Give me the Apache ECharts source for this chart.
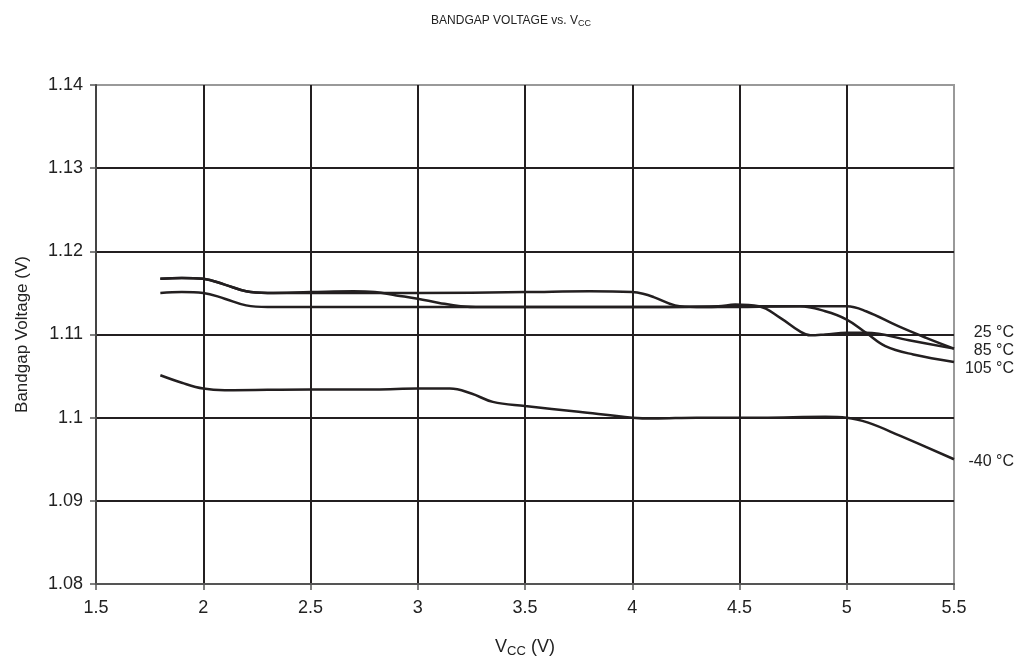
<!DOCTYPE html>
<html><head><meta charset="utf-8">
<script src="https://cdn.jsdelivr.net/npm/echarts@6/dist/echarts.min.js"></script>
<style>html,body{margin:0;padding:0;background:#fff}#c{width:1026px;height:663px}</style>
</head><body><div id="c"></div>
<script>
const xTicks = [1.5, 5.5, 0.5];
const yTicks = [1.08, 1.14, 0.01];
const seriesNames = ['25 °C', '85 °C', '105 °C', '-40 °C'];
const s25 = [[1.8,1.1167],[1.9,1.1168],[2.0,1.1167],[2.1,1.1160],[2.2,1.1152],[2.3,1.1150],[2.5,1.1150],[3.0,1.1150],[3.5,1.1151],[3.8,1.1152],[4.0,1.1151],[4.05,1.1149],[4.1,1.1145],[4.2,1.1135],[4.3,1.1133],[4.5,1.1134],[4.8,1.1134],[4.95,1.1134],[5.0,1.1134],[5.09,1.1128],[5.24,1.1110],[5.37,1.1096],[5.5,1.1083]];
const s85 = [[1.8,1.1150],[1.9,1.1151],[2.0,1.1150],[2.1,1.1143],[2.2,1.1135],[2.3,1.1133],[2.5,1.1133],[3.0,1.1133],[3.5,1.1133],[4.0,1.1133],[4.4,1.1134],[4.48,1.1136],[4.59,1.1134],[4.69,1.1120],[4.78,1.1104],[4.83,1.1099],[4.9,1.1100],[5.0,1.1102],[5.09,1.1102],[5.29,1.1093],[5.5,1.1083]];
const s105 = [[1.8,1.1167],[1.9,1.1168],[2.0,1.1167],[2.1,1.1160],[2.2,1.1152],[2.3,1.1150],[2.5,1.1151],[2.7,1.1152],[2.8,1.1151],[2.9,1.1147],[3.0,1.1143],[3.1,1.1138],[3.2,1.1134],[3.3,1.1133],[3.6,1.1133],[4.0,1.1133],[4.4,1.1133],[4.78,1.1134],[4.9,1.1128],[5.0,1.1118],[5.09,1.1102],[5.18,1.1086],[5.31,1.1076],[5.5,1.1067]];
const sM40 = [[1.8,1.1051],[1.9,1.1042],[2.0,1.1035],[2.1,1.1033],[2.5,1.1034],[2.8,1.1034],[3.0,1.1035],[3.15,1.1035],[3.25,1.1029],[3.35,1.1019],[3.5,1.1014],[3.75,1.1007],[4.0,1.1000],[4.1,1.0999],[4.3,1.1000],[4.6,1.1000],[4.9,1.1001],[5.0,1.1000],[5.1,1.0994],[5.25,1.0978],[5.5,1.0950]];

const font = 'Liberation Sans, Arial, sans-serif';
const labelOffsets = [[52,-16],[52,2],[52,7],[52,2]];
const datas = [s25, s85, s105, sM40];

const chart = echarts.init(document.getElementById('c'));
chart.setOption({
  animation: false,
  backgroundColor: '#fff',
  title: {
    text: 'BANDGAP VOLTAGE vs. V{sub|CC}',
    left: 506, top: 8, textAlign: 'center',
    textStyle: { fontFamily: font, fontSize: 12, fontWeight: 'normal', color: '#222',
      rich: { sub: { fontFamily: font, fontSize: 9, verticalAlign: 'bottom', padding: [6,0,0,0], color: '#222' } } }
  },
  grid: { left: 96, right: 72, top: 85, bottom: 79, show: true, borderColor: '#999', borderWidth: 2, backgroundColor: 'transparent' },
  xAxis: {
    type: 'value', min: xTicks[0], max: xTicks[1], interval: xTicks[2],
    name: 'V{sub|CC} (V)', nameLocation: 'middle', nameGap: 52,
    nameTextStyle: { fontFamily: font, fontSize: 18, color: '#222',
      rich: { sub: { fontFamily: font, fontSize: 13, verticalAlign: 'bottom', padding: [9,0,0,0], color: '#222' } } },
    axisLine: { lineStyle: { color: '#555', width: 2 } },
    axisTick: { show: true, length: 6, lineStyle: { color: '#555', width: 1.5 } },
    axisLabel: { fontFamily: font, fontSize: 18, color: '#222', margin: 15 },
    splitLine: { show: true, showMinLine: false, showMaxLine: false, lineStyle: { color: '#231f20', width: 2 } }
  },
  yAxis: {
    type: 'value', min: yTicks[0], max: yTicks[1], interval: yTicks[2],
    name: 'Bandgap Voltage (V)', nameLocation: 'middle', nameGap: 65, nameRotate: 90,
    nameTextStyle: { fontFamily: font, fontSize: 17, color: '#222' },
    axisLine: { show: true, lineStyle: { color: '#444', width: 2 } },
    axisTick: { show: true, length: 6, lineStyle: { color: '#555', width: 1.5 } },
    axisLabel: { fontFamily: font, fontSize: 18, color: '#222', margin: 13, formatter: v => String(+v.toFixed(2)) },
    splitLine: { show: true, showMinLine: false, showMaxLine: false, lineStyle: { color: '#231f20', width: 2 } }
  },
  series: datas.map((d, i) => ({
    type: 'line', name: seriesNames[i], data: d, smooth: 0.4, showSymbol: false, symbol: 'none',
    lineStyle: { color: '#231f20', width: 2.5 },
    endLabel: { show: true, formatter: seriesNames[i], align: 'right', offset: labelOffsets[i],
      fontFamily: font, fontSize: 16, color: '#222' }
  }))
});
</script></body></html>
